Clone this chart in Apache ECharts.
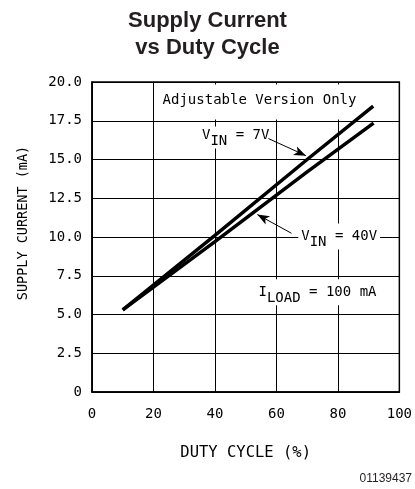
<!DOCTYPE html>
<html>
<head>
<meta charset="utf-8">
<script src="https://cdn.jsdelivr.net/npm/echarts@6/dist/echarts.min.js"></script>
<style>
  html, body { margin: 0; padding: 0; background: #fff; }
  #chart { width: 415px; height: 489px; }
</style>
</head>
<body>
<div id="chart"></div>
<script>
// data
const duty7 = [10, 40, 70, 91.5]
const current7 = [5.3, 10.1, 15.0, 18.45]
const duty40 = [10, 40, 70, 91.6]
const current40 = [5.3, 9.7, 14.2, 17.35]

const xTickLabels = ['0', '20', '40', '60', '80', '100']
const yTickLabels = ['0', '2.5', '5.0', '7.5', '10.0', '12.5', '15.0', '17.5', '20.0']

// annotation anchors (data coords)
const arrow7 = [[57.4, 16.35], [69.6, 15.25]]
const arrow40 = [[64.9, 10.24], [53.8, 11.45]]
const noteVersion = [54.5, 18.74]
const note7 = [34.8, 16.48]
const note40 = [67.1, 9.97]
const noteLoad = [53.2, 6.37]

const mono = 'DejaVu Sans Mono'
const myChart = echarts.init(document.getElementById('chart'))

function pair (xs, ys) {
  return xs.map(function (x, i) { return [x, ys[i]] })
}

const option = {
  animation: false,
  title: [{
    text: 'Supply Current\nvs Duty Cycle',
    left: 'center',
    top: 7,
    padding: 0,
    textStyle: {
      fontFamily: 'Liberation Sans',
      fontWeight: 'bold',
      fontSize: 22,
      lineHeight: 27,
      color: '#231f20'
    }
  }, {
    text: '01139437',
    right: 3,
    top: 473,
    padding: 0,
    textStyle: {
      fontFamily: 'Liberation Sans',
      fontWeight: 'normal',
      fontSize: 12,
      color: '#231f20'
    }
  }],
  grid: {
    left: 92,
    right: 13,
    top: 82,
    bottom: 97,
    show: true,
    borderColor: '#000',
    borderWidth: 1.5,
    backgroundColor: 'transparent'
  },
  xAxis: {
    type: 'value',
    min: 0,
    max: 100,
    interval: 20,
    name: 'DUTY CYCLE (%)',
    nameLocation: 'middle',
    nameGap: 53,
    nameTextStyle: { fontFamily: mono, fontSize: 15.5, color: '#000' },
    axisLine: { lineStyle: { color: '#000', width: 1.5 } },
    axisTick: { show: false },
    axisLabel: {
      margin: 15,
      fontFamily: mono,
      fontSize: 14,
      color: '#000',
      formatter: function (v, i) { return xTickLabels[i] }
    },
    splitLine: { lineStyle: { color: '#000', width: 1 } }
  },
  yAxis: {
    type: 'value',
    min: 0,
    max: 20,
    interval: 2.5,
    name: 'SUPPLY CURRENT (mA)',
    nameLocation: 'middle',
    nameGap: 62,
    nameTextStyle: { fontFamily: mono, fontSize: 13.5, color: '#000', padding: [0, 0, 0, 28] },
    axisLine: { lineStyle: { color: '#000', width: 1.5 } },
    axisTick: { show: false },
    axisLabel: {
      margin: 10,
      fontFamily: mono,
      fontSize: 14,
      color: '#000',
      formatter: function (v, i) { return yTickLabels[i] }
    },
    splitLine: { lineStyle: { color: '#000', width: 1 } }
  },
  series: [{
    name: 'VIN = 7V',
    type: 'line',
    data: pair(duty7, current7),
    symbol: 'none',
    lineStyle: { color: '#000', width: 3.5 },
    z: 3,
    markLine: {
      silent: true,
      symbol: ['none', 'arrow'],
      symbolSize: [7, 12],
      label: { show: false },
      lineStyle: { color: '#000', width: 1, type: 'solid' },
      data: [[{ coord: arrow7[0] }, { coord: arrow7[1] }]]
    }
  }, {
    name: 'VIN = 40V',
    type: 'line',
    data: pair(duty40, current40),
    symbol: 'none',
    lineStyle: { color: '#000', width: 3.5 },
    z: 3,
    markLine: {
      silent: true,
      symbol: ['none', 'arrow'],
      symbolSize: [7, 12],
      label: { show: false },
      lineStyle: { color: '#000', width: 1, type: 'solid' },
      data: [[{ coord: arrow40[0] }, { coord: arrow40[1] }]]
    }
  }]
}
myChart.setOption(option)

// subscript labels as rich text
const rich = {
  a: { fontFamily: mono, fontSize: 14, lineHeight: 16, verticalAlign: 'top', fill: '#000' },
  s: { fontFamily: mono, fontSize: 14, lineHeight: 16, verticalAlign: 'top', fill: '#000', padding: [6, 0, 0, 0] }
}

function note (pos, text, align, pad) {
  const p = myChart.convertToPixel({ gridIndex: 0 }, pos)
  return {
    type: 'text',
    z: 1,
    x: p[0],
    y: p[1] - 8 - pad[0],
    style: {
      text: text,
      rich: rich,
      align: align,
      verticalAlign: 'top',
      backgroundColor: '#fff',
      padding: pad
    }
  }
}

myChart.setOption({
  graphic: [
    note(noteVersion, '{a|Adjustable Version Only}', 'center', [9, 4, 10, 4]),
    note(note7, '{a|V}{s|IN}{a| = 7V}', 'left', [2, 3, 4, 3]),
    note(note40, '{a|V}{s|IN}{a| = 40V}', 'left', [6, 3, 4, 3]),
    note(noteLoad, '{a|I}{s|LOAD}{a| = 100 mA}', 'left', [6, 3, 4, 3])
  ]
})

window.addEventListener('resize', function () {
  myChart.resize()
})
</script>
</body>
</html>
